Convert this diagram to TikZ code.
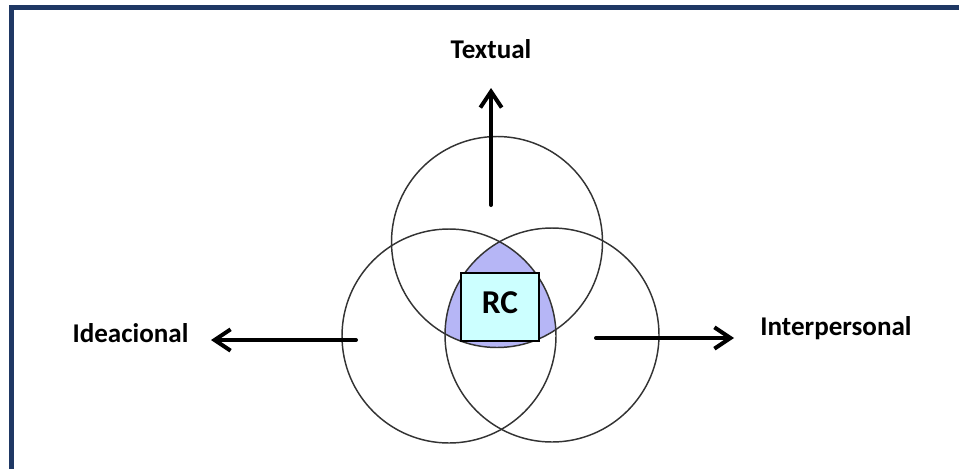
\documentclass[tikz,border=0pt]{standalone}
\usepackage{fontspec}
\setmainfont{Carlito}
\usepackage{xcolor}
\usepackage{tikz}
\usetikzlibrary{arrows.meta,positioning}
\definecolor{framenavy}{RGB}{31,56,100}
\definecolor{lensblue}{RGB}{182,182,246}
\definecolor{boxcyan}{RGB}{204,255,255}

\begin{document}
\begin{tikzpicture}[
  x=0.75pt,y=-0.75pt,
  every node/.style={font=\fontsize{20.3}{24}\selectfont\bfseries},
  ring/.style={draw=black!80,line width=1.1pt,circle,minimum size=#1,inner sep=0pt},
  lbl/.style={anchor=base,inner sep=0pt},
  rcbox/.style={draw,fill=boxcyan,line width=1.3pt,minimum width=58.5pt,minimum height=51pt,inner sep=0pt},
  arr/.style={-{Straight Barb[length=12pt,width=16pt]},line width=3pt,line cap=round}
]
\useasboundingbox (0,0) rectangle (959,468);

%% frame
\draw[framenavy,line width=3.6pt] (11.7,480) -- (11.7,7.5) -- (975,7.5);

%% shaded centre
\begin{scope}
  \clip (497,242) circle[radius=105.5];
  \clip (449,336) circle[radius=107];
  \fill[lensblue] (552,335) circle[radius=107];
\end{scope}

%% circles
\node[ring=158.25pt] (ctop)   at (497,242) {};
\node[ring=160.5pt]  (cleft)  at (449,336) {};
\node[ring=160.5pt]  (cright) at (552,335) {};

%% centre box
\node[rcbox] (rc) at (500,307) {};
\node[lbl,font=\fontsize{25}{30}\selectfont\bfseries] at (500,313) {RC};

%% labels
\node[lbl] (textual) at (491,58)  {Textual};
\node[lbl] (ideac)   at (130.5,342) {Ideacional};
\node[lbl] (interp)  at (836,335) {Interpersonal};

%% arrows
\coordinate (tstart) at (491,205);
\coordinate (ttip)   at (491,88);
\coordinate (lstart) at (356,340);
\coordinate (ltip)   at (211,340);
\coordinate (rstart) at (596,338);
\coordinate (rtip)   at (734,338);
\draw[arr] (tstart) -- (ttip);
\draw[arr] (lstart) -- (ltip);
\draw[arr] (rstart) -- (rtip);

\end{tikzpicture}
\end{document}
